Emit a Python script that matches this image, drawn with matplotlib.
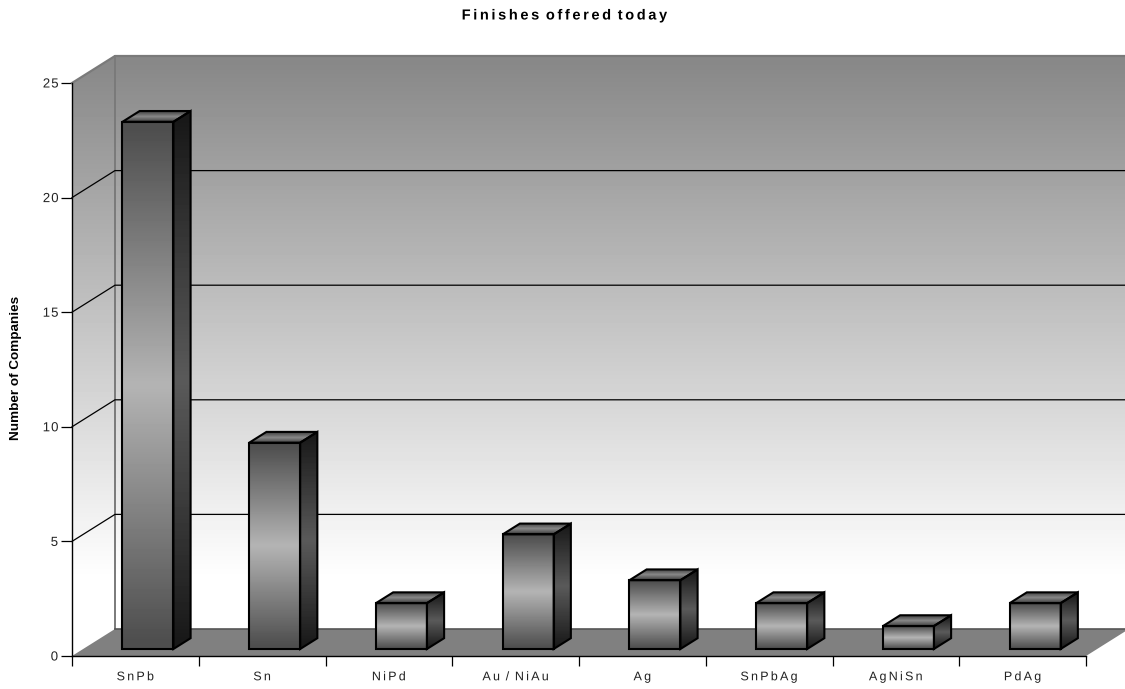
import numpy as np
import matplotlib
matplotlib.use('Agg')
from matplotlib import pyplot as plt
from matplotlib.patches import Polygon
from matplotlib.path import Path
from matplotlib.patheffects import AbstractPathEffect

plt.rcParams['font.family'] = ['Liberation Sans', 'DejaVu Sans']

categories = ['SnPb', 'Sn', 'NiPd', 'Au / NiAu', 'Ag', 'SnPbAg', 'AgNiSn', 'PdAg']
companies = [23, 9, 2, 5, 3, 2, 1, 2]
y_ticks = [0, 5, 10, 15, 20, 25]
title = 'Finishes offered today'
y_label = 'Number of Companies'

# pseudo 3d depth, in axis units
DX = 0.339
DY = 1.178
NEAR = 0.26
FAR = 0.66
BAR_L = 0.31
BAR_W = 0.402
YMAX = 25
NCAT = len(categories)


class LetterSpacing(AbstractPathEffect):
    # moves the glyphs of a text apart, gap is in 1/100 em
    def __init__(self, gap):
        super().__init__()
        self.gap = gap

    def draw_path(self, renderer, gc, tpath, affine, rgbFace=None):
        verts = tpath.vertices.copy()
        codes = tpath.codes
        starts = list(np.flatnonzero(codes == Path.MOVETO)) + [len(codes)]
        glyph = -1
        right = -np.inf
        for a, b in zip(starts[:-1], starts[1:]):
            keep = codes[a:b] != Path.CLOSEPOLY
            xs = verts[a:b][keep, 0]
            if xs.min() >= right:
                glyph += 1
                right = xs.max()
            right = max(right, xs.max())
            verts[a:b, 0] += glyph * self.gap
        verts[:, 0] -= glyph * self.gap / 2
        renderer.draw_path(gc, Path(verts, codes), affine, rgbFace)


def plane(x, y, d):
    return (x + d * DX, y + d * DY)


def shade(poly, grad, x0, x1, y0, y1, z):
    # gradient image clipped to a polygon
    pts = [plane(*p) for p in poly]
    patch = Polygon(pts, closed=True, fc='none', ec='none', transform=ax.transData, clip_on=False)
    ax.add_patch(patch)
    im = ax.imshow(grad, extent=(x0, x1, y0, y1), origin='lower', aspect='auto',
                   cmap='gray', vmin=0, vmax=1, zorder=z, interpolation='bilinear')
    im.set_clip_box(fig.bbox)
    im.set_clip_path(patch)


def bar_ramp(dark, light):
    t = np.linspace(-1, 1, 33)
    return ((dark + (light - dark) * (1 - np.abs(t))) / 255).reshape(-1, 1)


fig = plt.figure(figsize=(11.25, 6.89), dpi=100)
ax = fig.add_axes([72 / 1125, 33 / 689, 1014 / 1125, 573 / 689])
ax.patch.set_visible(False)

# walls, light at the floor and dark at the top
wall = np.interp(np.linspace(0, 1, 40), [0, 0.08, 1], [255, 255, 136]).reshape(-1, 1) / 255
shade([(0, 0, 1), (NCAT, 0, 1), (NCAT, YMAX, 1), (0, YMAX, 1)], wall,
      DX, NCAT + DX, DY, YMAX + DY, 1)
shade([(0, 0, 0), (0, 0, 1), (0, YMAX, 1), (0, YMAX, 0)], wall,
      0, DX, DY, YMAX + DY, 1)

# floor
ax.add_patch(Polygon([plane(0, 0, 0), plane(0, 0, 1), plane(NCAT, 0, 1), plane(NCAT, 0, 0)],
                     closed=True, fc='#808080', ec='none', zorder=2, clip_on=False))

# wall outlines
wall_edge = '#7a7a7a'
ax.plot(*zip(plane(0, YMAX, 0), plane(0, YMAX, 1), plane(NCAT, YMAX, 1)),
        color=wall_edge, lw=1.6, zorder=3, clip_on=False)
ax.plot(*zip(plane(0, 0, 1), plane(0, YMAX, 1)), color=wall_edge, lw=1.4, zorder=3, clip_on=False)
ax.plot(*zip(plane(0, 0, 1), plane(NCAT, 0, 1)), color='#555555', lw=1.2, zorder=3, clip_on=False)

# gridlines run along the side wall and then the back wall
for v in y_ticks[1:-1]:
    ax.plot(*zip(plane(0, v, 0), plane(0, v, 1), plane(NCAT, v, 1)),
            color='black', lw=0.9, zorder=3, clip_on=False)

for i, v in enumerate(companies):
    x0 = i + BAR_L
    x1 = x0 + BAR_W
    base0 = plane(x0, 0, NEAR)
    top1 = plane(x1, v, FAR)
    shade([(x0, 0, NEAR), (x1, 0, NEAR), (x1, v, NEAR), (x0, v, NEAR)], bar_ramp(78, 180),
          base0[0], plane(x1, 0, NEAR)[0], base0[1], plane(x0, v, NEAR)[1], 5)
    shade([(x1, 0, NEAR), (x1, 0, FAR), (x1, v, FAR), (x1, v, NEAR)], bar_ramp(24, 90),
          plane(x1, 0, NEAR)[0], top1[0], base0[1], top1[1], 5)
    shade([(x0, v, NEAR), (x1, v, NEAR), (x1, v, FAR), (x0, v, FAR)], bar_ramp(64, 136),
          base0[0], top1[0], plane(x0, v, NEAR)[1], top1[1], 5)
    outlines = [
        [(x0, 0, NEAR), (x1, 0, NEAR), (x1, v, NEAR), (x0, v, NEAR)],
        [(x1, 0, NEAR), (x1, 0, FAR), (x1, v, FAR), (x1, v, NEAR)],
        [(x0, v, NEAR), (x1, v, NEAR), (x1, v, FAR), (x0, v, FAR)],
    ]
    for o in outlines:
        ax.add_patch(Polygon([plane(*p) for p in o], closed=True, fc='none', ec='black',
                             lw=1.5, zorder=6, clip_on=False, joinstyle='miter'))

ax.set_xlim(0, NCAT)
ax.set_ylim(0, YMAX)

for s in ['top', 'right']:
    ax.spines[s].set_visible(False)
for s in ['left', 'bottom']:
    ax.spines[s].set_linewidth(1.0)
    ax.spines[s].set_zorder(7)

ax.set_xticks(np.arange(NCAT + 1))
ax.set_xticklabels([])
ax.set_xticks(np.arange(NCAT) + 0.5, labels=categories, minor=True)
ax.set_yticks(y_ticks)
ax.tick_params(axis='x', which='major', length=7.5, width=0.9)
ax.tick_params(axis='x', which='minor', length=0, pad=11, labelsize=9, labelcolor='#222222')
ax.tick_params(axis='y', length=8, width=0.9, pad=2, labelsize=9.5, labelcolor='#222222')

spaced = [LetterSpacing(18)]
for t in ax.get_xticklabels(minor=True):
    t.set_path_effects(spaced)
for t in ax.get_yticklabels():
    t.set_path_effects([LetterSpacing(8)])

fig.text(565 / 1125, 1 - 15.5 / 689, title, ha='center', va='center', fontsize=10.5,
         fontweight='bold', path_effects=[LetterSpacing(18)])
fig.text(16 / 1125, 1 - 368 / 689, y_label, ha='center', va='center', rotation=90,
         fontsize=9.7, fontweight='bold')

fig.savefig('out.png', dpi=100)
